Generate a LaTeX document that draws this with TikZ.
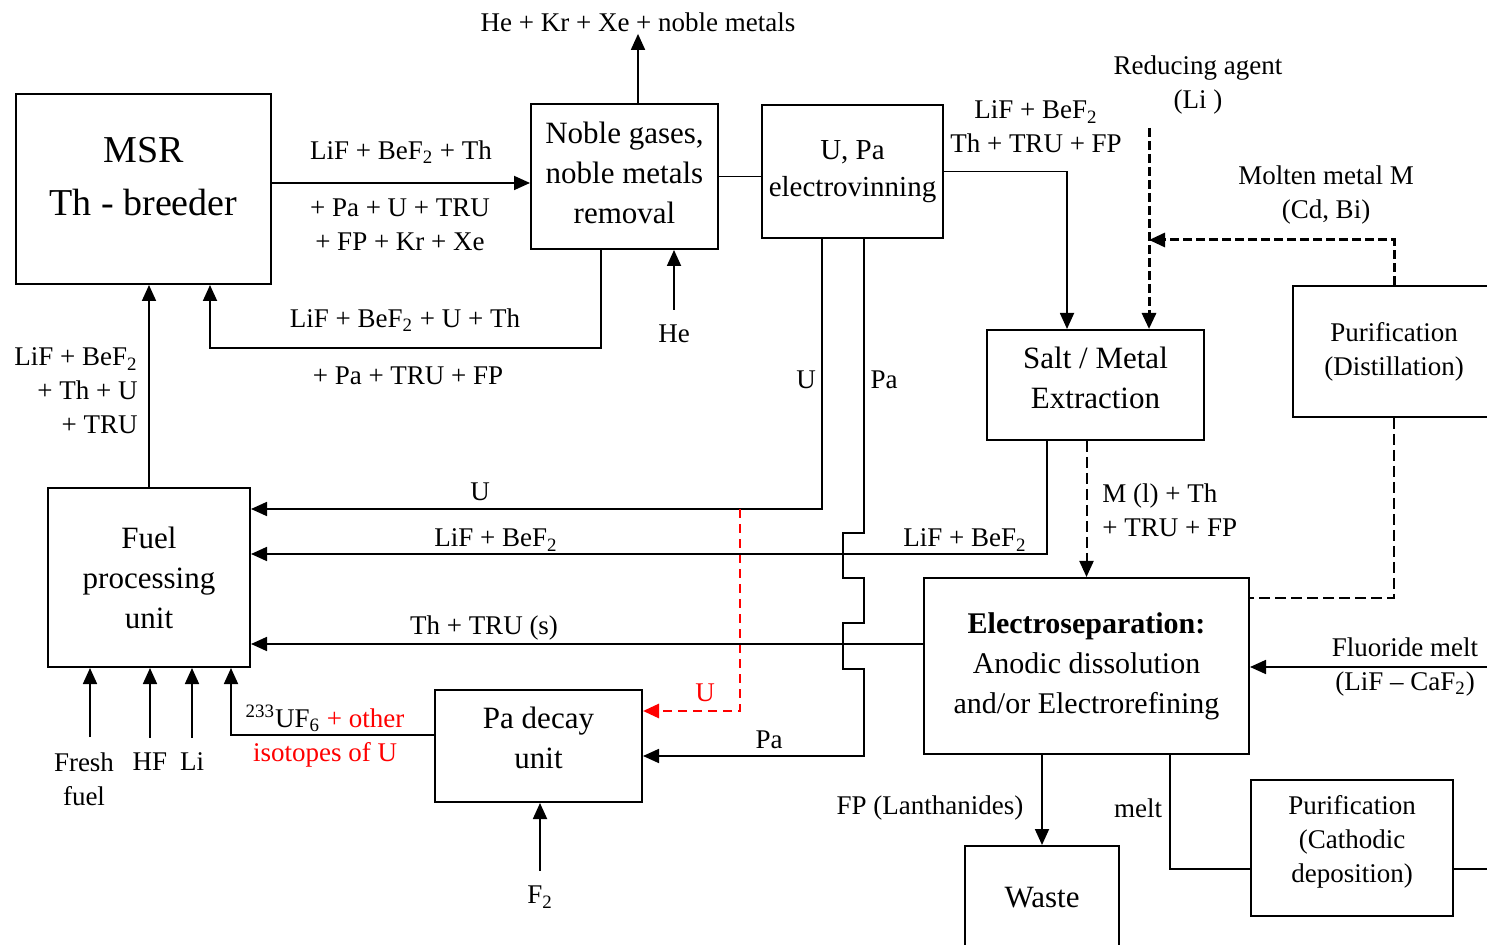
\documentclass[tikz,border=0pt]{standalone}
\usepackage{fontspec}
\setmainfont{Liberation Serif}
\usetikzlibrary{positioning,arrows.meta,calc}
\definecolor{isored}{HTML}{FF0000}

\begin{document}
\begin{tikzpicture}[x=0.5pt, y=-0.5pt,
  box/.style={draw, line width=1pt, inner sep=2pt, align=center, font=\fontsize{15.5}{20}\selectfont},
  lab/.style={inner sep=1pt, align=center, font=\fontsize{13.5}{17}\selectfont},
  line/.style={line width=0.9pt},
  arr/.style={line width=0.9pt, -{Triangle[length=8pt,width=7pt]}},
  inarr/.style={arr, shorten <=6.5pt},
  bigdash/.style={line width=1.5pt, dash pattern=on 4.5pt off 2pt, -{Triangle[length=8pt,width=7pt]}},
  smalldash/.style={line width=1pt, dash pattern=on 5.5pt off 2.5pt},
  redarr/.style={color=isored, line width=1.4pt, dash pattern=on 4.5pt off 3pt, -{Triangle[length=8pt,width=7pt]}}]
\useasboundingbox (0,0) rectangle (1487,945);

% process units
\node[box, minimum width=127.5pt, minimum height=95pt, text depth=12.5pt, font=\fontsize{19}{26.5}\selectfont] (msr) at (143.5,189) {MSR\\Th - breeder};
\node[box, minimum width=93.5pt, minimum height=72.5pt, text depth=3.5pt] (noble) at (624.5,176.5) {Noble gases,\\noble metals\\removal};
\node[box, minimum width=90.5pt, minimum height=66.5pt, font=\fontsize{14.5}{18.5}\selectfont] (electro) at (852.5,171.5) {U, Pa\\electrovinning};
\node[box, minimum width=108.5pt, minimum height=55pt, text depth=7pt] (salt) at (1095.5,385) {Salt / Metal\\Extraction};
\node[box, minimum width=101pt, minimum height=65.5pt, font=\fontsize{13.5}{17}\selectfont] (puridist) at (1394,351.5) {Purification\\(Distillation)};
\node[box, minimum width=101pt, minimum height=89.5pt] (fuel) at (149,577.5) {Fuel\\processing\\unit};
\node[box, minimum width=103.5pt, minimum height=56pt, text depth=8pt] (padecay) at (538.5,746) {Pa decay\\unit};
\node[box, minimum width=162.5pt, minimum height=88pt, font=\fontsize{15}{20}\selectfont] (elsep) at (1086.5,666) {\textbf{Electroseparation:}\\Anodic dissolution\\and/or Electrorefining};
\node[box, minimum width=77pt, minimum height=57pt, text depth=6pt] (waste) at (1042,903) {Waste};
\node[box, minimum width=101pt, minimum height=68pt, text depth=9pt, font=\fontsize{13.5}{17}\selectfont] (puricath) at (1352,848) {Purification\\(Cathodic\\deposition)};

% stream labels
\node[lab] (out) at (638,22) {He + Kr + Xe + noble metals};
\node[lab] (feedtop) at (401,152) {LiF + BeF\textsubscript{2} + Th};
\node[lab] (feedbot) at (400,225) {+ Pa + U + TRU\\+ FP + Kr + Xe};
\node[lab] (rectop) at (405,320) {LiF + BeF\textsubscript{2} + U + Th};
\node[lab] (recbot) at (408,376) {+ Pa + TRU + FP};
\node[lab] (he) at (674,334) {He};
\node[lab, anchor=east, align=right] (uplab) at (140,391) {LiF + BeF\textsubscript{2}\\+ Th + U\\+ TRU};
\node[lab] (ulab) at (806,380) {U};
\node[lab] (palab) at (884,380) {Pa};
\node[lab] (saltin) at (1036,127) {LiF + BeF\textsubscript{2}\\Th + TRU + FP};
\node[lab] (reducing) at (1198,85) {Reducing agent\\(Li )};
\node[lab] (molten) at (1326,195) {Molten metal M\\(Cd, Bi)};
\node[lab, anchor=west, align=left] (mlab) at (1100,510) {M (l) + Th\\+ TRU + FP};
\node[lab] (ulow) at (480,492) {U};
\node[lab] (liflow) at (496,540) {LiF + BeF\textsubscript{2}};
\node[lab] (lifright) at (965,540) {LiF + BeF\textsubscript{2}};
\node[lab] (thtru) at (484,628) {Th + TRU (s)};
\node[lab] (fluor) at (1405,667) {Fluoride melt\\(LiF -- CaF\textsubscript{2})};
\node[lab] (fplab) at (930,808) {FP (Lanthanides)};
\node[lab] (melt) at (1138,808) {melt};
\node[lab] (palow) at (769,740) {Pa};
\node[lab, text=isored] (ured) at (705,693) {U};
\node[lab] (fresh) at (84,779) {Fresh\\fuel};
\node[lab] (hf) at (150,762) {HF};
\node[lab] (lin) at (192,762) {Li};
\node[lab] (uflab) at (325,736) {\textsuperscript{233}UF\textsubscript{6} {\color{isored}+ other}\\{\color{isored}isotopes of U}};
\node[lab] (f2) at (540,897) {F\textsubscript{2}};

\coordinate (redin) at (1149,128);
\coordinate (ubr) at (740,509);
\coordinate (flin) at (1490,667);

% salt loop
\draw[arr] ([yshift=3pt]msr.east) -- ([yshift=3pt]msr.east -| noble.west);
\draw[line] (noble.east) -- (noble.east -| electro.west);
\draw[arr] (electro.east) -| ($(salt.north)+(-28.5,0)$);
\draw[arr] (out.south |- noble.north) -- (out.south);
\draw[inarr] (he) -- (he |- noble.south);
\draw[arr] ($(noble.south)+(-23.5,0)$) |- ($(msr.south)+(66.5,63)$) -- ($(msr.south)+(66.5,0)$);
\draw[arr] (fuel.north) -- (fuel.north |- msr.south);

% U and Pa from electrovinning
\draw[arr] ($(electro.south)+(-30.5,0)$) |- ($(fuel.east)+(0,-68.5)$);
\draw[arr] ($(electro.south)+(11.5,0)$) -- ++(0,294) -- ++(-21,0) -- ++(0,45) -- ++(21,0) -- ++(0,45) -- ++(-21,0) -- ++(0,46) -- ++(21,0) |- ($(padecay.east)+(0,10)$);
\draw[redarr] (ubr) |- ($(padecay.east)+(0,-35)$);

% extraction and electroseparation
\draw[bigdash] (redin) -- (redin |- salt.north);
\draw[bigdash] (puridist.north) |- ($(redin)+(0,112)$);
\draw[arr] ($(salt.south)+(-48.5,0)$) |- ($(fuel.east)+(0,-23.5)$);
\draw[smalldash, -{Triangle[length=8pt,width=7pt]}] (elsep.north |- salt.south) -- (elsep.north);
\draw[smalldash] (puridist.south) |- ($(elsep.east)+(0,-68)$);
\draw[arr] ($(elsep.west)+(0,-22)$) -- ($(fuel.east)+(0,66.5)$);
\draw[arr] (flin) -- (flin -| elsep.east);
\draw[arr] (waste.north |- elsep.south) -- (waste.north);
\draw[line] ($(elsep.south)+(83.5,0)$) |- ($(puricath.west)+(0,21)$);
\draw[line] ($(puricath.east)+(0,21)$) -- ++(40,0);

% feeds to fuel processing
\draw[arr] ($(padecay.west)+(0,-11)$) -| ($(fuel.south)+(82,0)$);
\draw[inarr] ([xshift=3pt]fresh.north) -- ([xshift=3pt]fresh.north |- fuel.south);
\draw[inarr] (hf) -- (hf |- fuel.south);
\draw[inarr] (lin) -- (lin |- fuel.south);
\draw[inarr] (f2) -- (f2 |- padecay.south);
\end{tikzpicture}
\end{document}
